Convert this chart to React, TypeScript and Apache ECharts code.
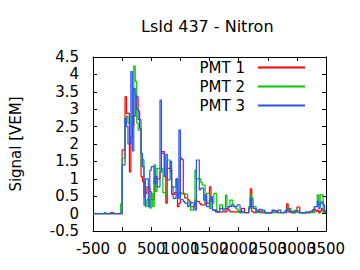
import React, { useEffect, useRef } from "react";
import * as echarts from "echarts";

// Bin width 25 ns, bins start at -500
const binStart = -500;
const binWidth = 25;

const pmt1: number[] = [
  0, 0, 0, 0, 0, 0, 0, 0, 0, 0, 0, 0, 0.03, 0.03, 0, 0, 0, 0, 0, 0,
  1.83, 1.83, 3.36, 2.88, 2.88, 1.2, 2.2, 2.54, 2.8, 3.36, 3.36, 2.95, 2.45, 1.06, 0.92, 0.49, 0.58, 0.77, 0.77, 0.63,
  0.4, 0.4, 1.0, 1.0, 1.0, 1.0, 1.2, 1.78, 1.78, 1.06, 0.3, 1.3, 1.3, 1.3, 0.55, 0.55, 0.6, 0.6, 0.2, 0.3,
  1.6, 1.55, 0.58, 0.45, 0.45, 0.4, 0.35, 0.2, 0.2, 0.2, 0.39, 0.35, 0.35, 0.3, 0.25, 0.25, 0.25, 0.39, 0.3, 0.3,
  0.77, 0.35, 0.1, 0.1, 0.05, 0.03, 0.05, 0.05, 0.05, 0.05, 0.05, 0.05, 0.15, 0.1, 0.05, 0.05, 0.05, 0.05, 0.05, 0.06,
  0.06, 0.03, 0.15, 0.15, 0.03, 0.03, 0.03, 0.15, 0.71, 0.06, 0.03, 0.03, 0.1, 0.1, 0.06, 0.06, 0.02, 0.02, 0.02, 0.02,
  0.02, 0.02, 0.02, 0.08, 0.08, 0.08, 0.08, 0.03, 0.03, 0.03, 0.03, 0.03, 0.03, 0.28, 0.05, 0.03, 0.03, 0.03, 0.06, 0.06,
  0.19, 0.19, 0.02, 0.02, 0.02, 0.02, 0.02, 0.02, 0.02, 0.06, 0.06, 0.12, 0.12, 0.06, 0.1, 0.02, 0.08, 0.15, 0.06, 0.05,
];

const pmt2: number[] = [
  0, 0, 0, 0, 0, 0, 0, 0, 0.03, 0, 0, 0, 0, 0, 0, 0, 0, 0, 0, 0.28,
  1.59, 1.59, 2.74, 2.8, 2.6, 2.6, 2.6, 2.8, 4.24, 3.8, 2.6, 2.4, 2.4, 1.35, 1.55, 0.6, 0.2, 0.4, 0.4, 0.16,
  0.58, 0.2, 1.4, 0.63, 1.3, 1.3, 1.3, 1.3, 0.6, 0.6, 0.55, 1.54, 1.54, 1.2, 0.77, 0.77, 0.77, 1.0, 0.5, 0.6,
  0.6, 0.56, 0.56, 0.56, 0.56, 0.3, 0.3, 0.1, 0.1, 0.25, 1.25, 1.0, 1.0, 1.0, 0.9, 0.82, 0.82, 0.25, 0.58, 0.58,
  0.15, 0.48, 0.3, 0.58, 0.58, 0.05, 0.05, 0.25, 0.25, 0.15, 0.15, 0.53, 0.2, 0.2, 0.39, 0.39, 0.2, 0.2, 0.15, 0.1,
  0.03, 0.03, 0.03, 0.03, 0.03, 0.03, 0.03, 0.15, 0.54, 0.44, 0.2, 0.2, 0.03, 0.03, 0.03, 0.03, 0.1, 0.1, 0.03, 0.03,
  0.03, 0.03, 0.03, 0.03, 0.03, 0.03, 0.03, 0.03, 0.03, 0.03, 0.03, 0.03, 0.1, 0.1, 0.15, 0.15, 0.05, 0.05, 0.1, 0.1,
  0.03, 0.03, 0.03, 0.03, 0.03, 0.03, 0.03, 0.03, 0.03, 0.03, 0.03, 0.03, 0.2, 0.2, 0.54, 0.25, 0.54, 0.54, 0.03, 0.03,
];

const pmt3: number[] = [
  0, 0, 0, 0, 0, 0, 0, 0, 0, 0, 0, 0, 0, 0, 0, 0, 0, 0, 0, 0,
  1.4, 1.4, 2.74, 2.5, 2.0, 2.0, 4.08, 1.8, 3.6, 3.4, 3.0, 2.7, 2.7, 1.73, 1.35, 0.24, 1.0, 1.0, 0.2, 1.24,
  1.35, 1.35, 0.86, 1.06, 0.77, 0.77, 3.26, 1.73, 1.73, 1.1, 1.7, 0.97, 0.97, 1.5, 0.77, 0.44, 0.44, 1.0, 0.44, 2.4,
  0.4, 0.4, 0.35, 0.3, 0.3, 0.2, 0.25, 0.31, 0.31, 0.31, 0.1, 1.54, 1.54, 0.68, 0.73, 0.73, 0.39, 0.54, 0.2, 0.2,
  0.39, 0.48, 0.1, 0.1, 0.1, 0.05, 0.05, 0.15, 0.15, 0.1, 0.1, 0.15, 0.15, 0.2, 0.2, 0.25, 0.25, 0.2, 0.2, 0.25,
  0.25, 0.05, 0.05, 0.05, 0.03, 0.03, 0.03, 0.2, 0.44, 0.2, 0.15, 0.15, 0.05, 0.05, 0.12, 0.12, 0.08, 0.08, 0.02, 0.02,
  0.02, 0.02, 0.02, 0.1, 0.1, 0.05, 0.05, 0.1, 0.1, 0.03, 0.03, 0.05, 0.05, 0.13, 0.13, 0.08, 0.05, 0.02, 0.02, 0.05,
  0.08, 0.08, 0.02, 0.02, 0.02, 0.02, 0.05, 0.05, 0.05, 0.05, 0.08, 0.08, 0.2, 0.2, 0.35, 0.15, 0.3, 0.34, 0.25, 0.08,
];

const seriesNames = ["PMT 1", "PMT 2", "PMT 3"];
const seriesColors = ["#ff0000", "#00c800", "#2852ff"];
const titleText = "LsId 437 - Nitron";
const yName = "Signal [VEM]";

function toSteps(vals: number[]): [number, number][] {
  const pts: [number, number][] = vals.map((v, i) => [binStart + i * binWidth, v]);
  pts.push([binStart + vals.length * binWidth, vals[vals.length - 1]]);
  return pts;
}

const FONT = "DejaVu Sans";

export default function App() {
  const ref = useRef<HTMLDivElement>(null);
  useEffect(() => {
    if (!ref.current) return;
    const chart = echarts.init(ref.current, undefined, { renderer: "svg" });
    const xBase = {
      type: "value" as const,
      min: -500,
      max: 3500,
      interval: 500,
      splitLine: { show: false },
      axisLine: { show: true, onZero: false, lineStyle: { color: "#000", width: 1 } },
      axisTick: { show: true, inside: true, length: 4, lineStyle: { color: "#000" } },
    };
    const yBase = {
      type: "value" as const,
      min: -0.5,
      max: 4.5,
      interval: 0.5,
      splitLine: { show: false },
      axisLine: { show: true, onZero: false, lineStyle: { color: "#000", width: 1 } },
      axisTick: { show: true, inside: true, length: 4, lineStyle: { color: "#000" } },
    };
    const xLabelBase = {
      show: true,
      showMinLabel: true,
      showMaxLabel: true,
      hideOverlap: false,
      interval: 0,
      margin: 10,
      fontFamily: FONT,
      fontSize: 15,
      color: "#000",
    };
    const data = [pmt1, pmt2, pmt3];
    chart.setOption({
      animation: false,
      backgroundColor: "#fff",
      title: {
        text: titleText,
        left: 141,
        top: 18,
        padding: 0,
        textStyle: { fontFamily: FONT, fontSize: 16, fontWeight: "normal", color: "#000" },
      },
      legend: {
        data: seriesNames,
        orient: "vertical",
        align: "right",
        right: 55,
        top: 60,
        padding: 0,
        itemGap: 4,
        itemWidth: 47,
        itemHeight: 2,
        icon: "rect",
        textStyle: { fontFamily: FONT, fontSize: 15, color: "#000", lineHeight: 15, padding: [0, 8, 0, 0] },
      },
      grid: { left: 90, right: 34, top: 57, bottom: 39, containLabel: false },
      xAxis: [
        {
          ...xBase,
          position: "bottom",
          axisLabel: {
            ...xLabelBase,
            formatter: (v: number) => (Math.round(v / 500) % 2 !== 0 ? String(v) : ""),
          },
        },
        { ...xBase, position: "top", axisLabel: { show: false } },
        {
          ...xBase,
          position: "bottom",
          offset: 0,
          axisLine: { show: false },
          axisTick: { show: false },
          axisLabel: {
            ...xLabelBase,
            formatter: (v: number) => (Math.round(v / 500) % 2 === 0 ? String(v) : ""),
          },
        },
      ],
      yAxis: [
        {
          ...yBase,
          position: "left",
          name: yName,
          nameLocation: "middle",
          nameGap: 70,
          nameTextStyle: { fontFamily: FONT, fontSize: 15, color: "#000" },
          axisLabel: {
            show: true,
            showMinLabel: true,
            showMaxLabel: true,
            hideOverlap: false,
            margin: 14,
            fontFamily: FONT,
            fontSize: 15,
            color: "#000",
            formatter: (v: number) => String(v),
          },
        },
        { ...yBase, position: "right", axisLabel: { show: false } },
      ],
      series: seriesNames.map((name, k) => ({
        name,
        type: "line",
        step: "end",
        xAxisIndex: 0,
        yAxisIndex: 0,
        showSymbol: false,
        symbol: "none",
        color: seriesColors[k],
        lineStyle: { color: seriesColors[k], width: 1.2 },
        data: toSteps(data[k]),
        z: 2 + k,
      })),
    });
    return () => chart.dispose();
  }, []);
  return <div ref={ref} style={{ width: 360, height: 270, margin: -8 }} />;
}
